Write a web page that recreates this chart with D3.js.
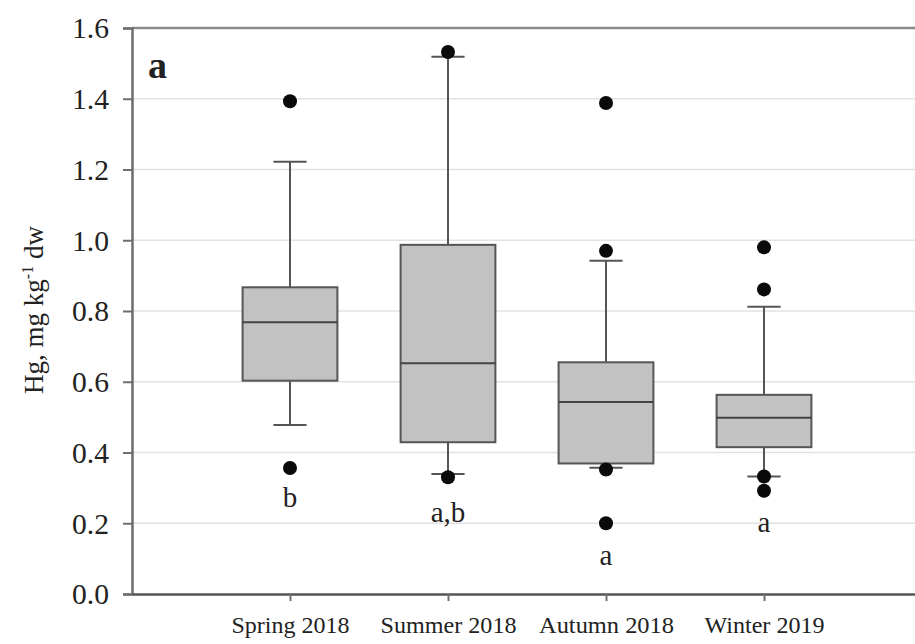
<!DOCTYPE html>
<html>
<head>
<meta charset="utf-8">
<script src="https://cdn.jsdelivr.net/npm/d3@7"></script>
<style>
  body { margin: 0; background: #fff; }
  svg { display: block; }
  text { font-family: "Liberation Serif", "Times New Roman", serif; fill: #222; }
</style>
</head>
<body>
<svg id="chart" width="915" height="644"></svg>
<script>
// season categories
const categories = ["Spring 2018", "Summer 2018", "Autumn 2018", "Winter 2019"];
// box statistics (Hg, mg kg-1 dw)
const q1 = [0.603, 0.429, 0.369, 0.415];
const medians = [0.768, 0.652, 0.543, 0.498];
const q3 = [0.867, 0.987, 0.655, 0.563];
const whiskerLow = [0.478, 0.339, 0.357, 0.332];
const whiskerHigh = [1.222, 1.519, 0.942, 0.812];
const outliers = [
    [1.393, 0.356],
    [1.532, 0.330],
    [1.388, 0.970, 0.352, 0.200],
    [0.980, 0.861, 0.332, 0.292]
];
// significance letters and the value they sit at (baseline)
const groupLetters = ["b", "a,b", "a", "a"];
const letterValues = [0.246, 0.204, 0.082, 0.175];
const yTicks = [0.0, 0.2, 0.4, 0.6, 0.8, 1.0, 1.2, 1.4, 1.6];

const svg = d3.select("#chart");
const plotLeft = 132, plotTop = 28, plotBottom = 594;

// categories sit at 1..4 on a 0..5 linear axis
const x = d3.scaleLinear().domain([0, 5]).range([plotLeft, 922]);
const y = d3.scaleLinear().domain([0, 1.6]).range([plotBottom, plotTop]);
const step = x(1) - x(0);
const boxW = step * 0.6;
const capW = step * 0.21;

// grid lines
svg.append("g")
    .selectAll("line")
    .data(yTicks.filter(d => d > 0 && d < 1.6))
    .join("line")
    .attr("x1", plotLeft).attr("x2", 915)
    .attr("y1", d => y(d)).attr("y2", d => y(d))
    .attr("stroke", "#e2e2e2").attr("stroke-width", 1.5);

// top frame line
svg.append("line")
    .attr("x1", plotLeft).attr("x2", 915)
    .attr("y1", y(1.6)).attr("y2", y(1.6))
    .attr("stroke", "#8a8a8a").attr("stroke-width", 2.5);

// y axis
const yAxis = svg.append("g")
    .attr("transform", `translate(${plotLeft},0)`)
    .call(d3.axisLeft(y).tickValues(yTicks).tickFormat(d3.format(".1f")).tickSize(9).tickPadding(14));
yAxis.select(".domain").attr("stroke", "#6e6e6e").attr("stroke-width", 2.5);
yAxis.selectAll(".tick line").attr("stroke", "#6e6e6e").attr("stroke-width", 2);
yAxis.selectAll(".tick text")
    .attr("font-size", 29)
    .attr("fill", "#333")
    .attr("dy", "0.34em")
    .attr("textLength", 37)
    .attr("lengthAdjust", "spacingAndGlyphs");

// x axis
const xAxis = svg.append("g")
    .attr("transform", `translate(0,${plotBottom})`)
    .call(d3.axisBottom(x).tickValues([1, 2, 3, 4]).tickFormat(d => categories[d - 1]).tickSize(7).tickSizeOuter(0));
xAxis.select(".domain").attr("stroke", "#555").attr("stroke-width", 2.5);
xAxis.selectAll(".tick line").attr("stroke", "#6e6e6e").attr("stroke-width", 2);
xAxis.selectAll(".tick text")
    .attr("y", 39)
    .attr("dy", 0)
    .attr("font-size", 24)
    .attr("fill", "#333")
    .attr("textLength", (d, i) => [118, 136, 135, 120][i])
    .attr("lengthAdjust", "spacingAndGlyphs");

// boxes
const boxes = svg.append("g")
    .selectAll("g")
    .data(categories.map((c, i) => ({ i, c })))
    .join("g")
    .attr("transform", d => `translate(${x(d.i + 1)},0)`);

const stroke = "#555";
// whiskers
boxes.append("line")
    .attr("y1", d => y(q3[d.i])).attr("y2", d => y(whiskerHigh[d.i]))
    .attr("stroke", stroke).attr("stroke-width", 2);
boxes.append("line")
    .attr("y1", d => y(q1[d.i])).attr("y2", d => y(whiskerLow[d.i]))
    .attr("stroke", stroke).attr("stroke-width", 2);
boxes.append("line")
    .attr("x1", -capW / 2).attr("x2", capW / 2)
    .attr("y1", d => y(whiskerHigh[d.i])).attr("y2", d => y(whiskerHigh[d.i]))
    .attr("stroke", stroke).attr("stroke-width", 2);
boxes.append("line")
    .attr("x1", -capW / 2).attr("x2", capW / 2)
    .attr("y1", d => y(whiskerLow[d.i])).attr("y2", d => y(whiskerLow[d.i]))
    .attr("stroke", stroke).attr("stroke-width", 2);
// box body
boxes.append("rect")
    .attr("x", -boxW / 2).attr("width", boxW)
    .attr("y", d => y(q3[d.i]))
    .attr("height", d => y(q1[d.i]) - y(q3[d.i]))
    .attr("fill", "#c2c2c2").attr("stroke", stroke).attr("stroke-width", 2);
// median
boxes.append("line")
    .attr("x1", -boxW / 2).attr("x2", boxW / 2)
    .attr("y1", d => y(medians[d.i])).attr("y2", d => y(medians[d.i]))
    .attr("stroke", "#444").attr("stroke-width", 2);
// outliers
boxes.selectAll("circle")
    .data(d => outliers[d.i])
    .join("circle")
    .attr("cy", v => y(v))
    .attr("r", 7)
    .attr("fill", "#0a0a0a");
// letters
boxes.append("text")
    .attr("y", d => y(letterValues[d.i]))
    .attr("text-anchor", "middle")
    .attr("font-size", 29)
    .attr("fill", "#333")
    .text(d => groupLetters[d.i]);

// panel label
svg.append("text")
    .attr("x", 148).attr("y", 78)
    .attr("font-size", 38)
    .attr("font-weight", "bold")
    .attr("fill", "#111")
    .attr("textLength", 19)
    .attr("lengthAdjust", "spacingAndGlyphs")
    .text("a");

// y title
const yTitle = svg.append("text")
    .attr("transform", "translate(43,310) rotate(-90)")
    .attr("text-anchor", "middle")
    .attr("font-size", 27)
    .attr("fill", "#333");
yTitle.append("tspan").text("Hg, mg kg");
yTitle.append("tspan").attr("dy", -10).attr("font-size", 16).text("-1");
yTitle.append("tspan").attr("dy", 10).text(" dw");
</script>
</body>
</html>
